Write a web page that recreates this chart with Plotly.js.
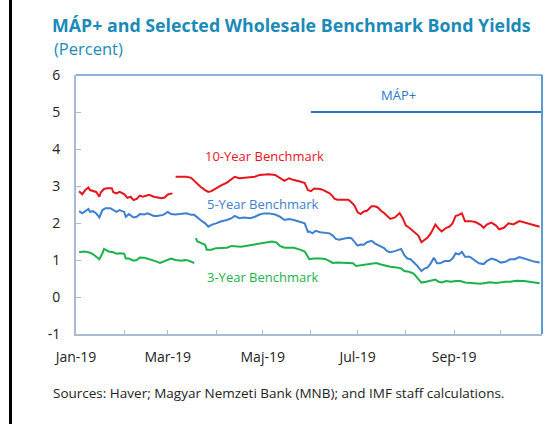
<!DOCTYPE html>
<html>
<head>
<meta charset="utf-8">
<script src="https://cdn.plot.ly/plotly-3.0.1.min.js"></script>
<style>
  html, body { margin: 0; padding: 0; background: #ffffff; }
  #wrap { position: relative; width: 547px; height: 424px; }
  #bar { position: absolute; left: 9px; top: 0; width: 3px; height: 424px; background: #000; z-index: 5; }
  #chart { width: 547px; height: 424px; }
</style>
</head>
<body>
<div id="wrap"><div id="bar"></div><div id="chart"></div></div>
<script>
// ---- Data ----
const tenYearDates = [
  "2019-01-03","2019-01-05","2019-01-07","2019-01-09","2019-01-10","2019-01-12","2019-01-14","2019-01-16",
  "2019-01-17","2019-01-19","2019-01-21","2019-01-24","2019-01-25","2019-01-27","2019-01-29","2019-02-01",
  "2019-02-03","2019-02-05","2019-02-07","2019-02-09","2019-02-11","2019-02-13","2019-02-17","2019-02-20",
  "2019-02-22","2019-02-25","2019-02-27","2019-03-01","2019-03-04","2019-03-05",
  "2019-03-06","2019-03-10","2019-03-13","2019-03-16","2019-03-18","2019-03-22","2019-03-25","2019-03-27",
  "2019-03-29","2019-04-01","2019-04-04","2019-04-08","2019-04-11","2019-04-13","2019-04-16","2019-04-19",
  "2019-04-23","2019-04-26","2019-04-29","2019-05-02","2019-05-05","2019-05-09","2019-05-12","2019-05-15",
  "2019-05-18","2019-05-21","2019-05-25","2019-05-28","2019-05-30","2019-06-01","2019-06-03","2019-06-07",
  "2019-06-09","2019-06-11","2019-06-13","2019-06-15","2019-06-16","2019-06-18","2019-06-20","2019-06-22",
  "2019-06-25","2019-06-27","2019-06-29","2019-07-01","2019-07-03","2019-07-05","2019-07-07","2019-07-10",
  "2019-07-12","2019-07-14","2019-07-16","2019-07-18","2019-07-20","2019-07-22","2019-07-25","2019-07-27",
  "2019-07-28","2019-07-30","2019-08-01","2019-08-03","2019-08-05","2019-08-07","2019-08-09","2019-08-11",
  "2019-08-13","2019-08-15","2019-08-17","2019-08-19","2019-08-20","2019-08-22","2019-08-24","2019-08-27",
  "2019-08-29","2019-08-31","2019-09-02","2019-09-04","2019-09-06","2019-09-08","2019-09-12","2019-09-15",
  "2019-09-18","2019-09-20","2019-09-22","2019-09-25","2019-09-28","2019-09-30","2019-10-03","2019-10-06",
  "2019-10-09","2019-10-13","2019-10-16","2019-10-19","2019-10-22","2019-10-26"
];
const tenYearValues = [
  2.86,2.78,2.89,2.96,2.89,2.87,2.84,2.71,
  2.83,2.92,2.94,2.94,2.83,2.80,2.84,2.78,
  2.68,2.71,2.62,2.65,2.74,2.71,2.76,2.71,
  2.69,2.67,2.69,2.77,2.80,null,
  3.25,3.25,3.25,3.22,3.14,2.98,2.89,2.84,
  2.86,2.94,3.01,3.09,3.19,3.25,3.21,3.22,
  3.22,3.25,3.30,3.32,3.32,3.30,3.21,3.14,
  3.21,3.16,3.12,3.08,2.89,2.86,2.93,2.92,
  2.89,2.84,2.80,2.72,2.66,2.63,2.63,2.62,
  2.63,2.56,2.47,2.29,2.24,2.31,2.33,2.45,
  2.45,2.42,2.33,2.27,2.20,2.11,2.15,2.24,
  2.27,2.13,1.93,1.88,1.81,1.75,1.66,1.48,
  1.55,1.61,1.72,1.87,1.96,1.85,1.77,1.87,
  1.90,1.99,2.19,2.22,2.26,2.05,2.05,2.02,
  1.95,1.87,1.96,2.01,1.93,1.83,1.87,1.99,
  1.96,2.05,2.02,1.99,1.95,1.90
];

const fiveYearDates = [
  "2019-01-03","2019-01-05","2019-01-07","2019-01-09","2019-01-10","2019-01-12","2019-01-14","2019-01-16",
  "2019-01-18","2019-01-20","2019-01-23","2019-01-25","2019-01-27","2019-01-29","2019-02-01","2019-02-02",
  "2019-02-04","2019-02-07","2019-02-09","2019-02-11","2019-02-14","2019-02-16","2019-02-20","2019-02-22",
  "2019-02-26","2019-03-01","2019-03-03","2019-03-06","2019-03-10","2019-03-13","2019-03-16","2019-03-18",
  "2019-03-22","2019-03-25","2019-03-27","2019-03-29","2019-04-01","2019-04-04","2019-04-08","2019-04-11",
  "2019-04-13","2019-04-16","2019-04-19","2019-04-23","2019-04-26","2019-04-29","2019-05-02","2019-05-05",
  "2019-05-09","2019-05-12","2019-05-15","2019-05-18","2019-05-21","2019-05-25","2019-05-28","2019-05-30",
  "2019-05-31","2019-06-02","2019-06-04","2019-06-07","2019-06-10","2019-06-13","2019-06-15","2019-06-17",
  "2019-06-19","2019-06-21","2019-06-25","2019-06-27","2019-06-29","2019-07-01","2019-07-03","2019-07-05",
  "2019-07-07","2019-07-10","2019-07-12","2019-07-14","2019-07-16","2019-07-18","2019-07-20","2019-07-22",
  "2019-07-25","2019-07-27","2019-07-29","2019-07-31","2019-08-02","2019-08-04","2019-08-06","2019-08-08",
  "2019-08-11","2019-08-13","2019-08-15","2019-08-17","2019-08-19","2019-08-21","2019-08-23","2019-08-26",
  "2019-08-29","2019-08-31","2019-09-02","2019-09-04","2019-09-06","2019-09-08","2019-09-11","2019-09-14",
  "2019-09-17","2019-09-20","2019-09-22","2019-09-25","2019-09-28","2019-10-01","2019-10-04","2019-10-07",
  "2019-10-10","2019-10-13","2019-10-16","2019-10-20","2019-10-23","2019-10-26"
];
const fiveYearValues = [
  2.32,2.26,2.32,2.38,2.30,2.32,2.26,2.15,
  2.35,2.40,2.40,2.35,2.30,2.35,2.30,2.17,
  2.24,2.15,2.17,2.24,2.23,2.26,2.19,2.19,
  2.22,2.30,2.24,2.23,2.25,2.26,2.22,2.22,
  2.08,1.99,1.90,1.95,1.99,2.04,2.08,2.13,
  2.19,2.13,2.15,2.13,2.17,2.23,2.26,2.26,
  2.23,2.17,2.08,2.11,2.08,2.02,1.99,1.76,
  1.77,1.72,1.79,1.75,1.74,1.72,1.66,1.57,
  1.55,1.57,1.60,1.59,1.48,1.39,1.42,1.41,
  1.48,1.52,1.45,1.41,1.36,1.32,1.24,1.21,
  1.24,1.27,1.30,1.13,1.04,1.02,0.95,0.86,
  0.70,0.77,0.80,0.91,1.06,0.91,0.91,0.97,
  0.97,1.04,1.18,1.15,1.22,1.09,1.09,1.00,
  0.91,0.89,0.97,1.04,1.00,0.93,0.95,1.02,
  1.02,1.08,1.04,1.00,0.95,0.93
];

const threeYearDates = [
  "2019-01-03","2019-01-06","2019-01-09","2019-01-11","2019-01-13","2019-01-16","2019-01-18","2019-01-19",
  "2019-01-22","2019-01-25","2019-01-27","2019-01-29","2019-02-01","2019-02-02","2019-02-04","2019-02-07",
  "2019-02-09","2019-02-11","2019-02-14","2019-02-17","2019-02-21","2019-02-24","2019-02-26","2019-03-01",
  "2019-03-03","2019-03-06","2019-03-10","2019-03-12","2019-03-14","2019-03-18","2019-03-18 12:00",
  "2019-03-19","2019-03-20","2019-03-23","2019-03-25","2019-03-26","2019-03-29","2019-04-01","2019-04-04",
  "2019-04-08","2019-04-11","2019-04-14","2019-04-17","2019-04-20","2019-04-24","2019-04-27","2019-04-30",
  "2019-05-03","2019-05-07","2019-05-10","2019-05-12","2019-05-15","2019-05-18","2019-05-21","2019-05-25",
  "2019-05-28","2019-05-31","2019-06-03","2019-06-07","2019-06-10","2019-06-13","2019-06-15","2019-06-18",
  "2019-06-21","2019-06-25","2019-06-28","2019-06-30","2019-07-03","2019-07-06","2019-07-10","2019-07-13",
  "2019-07-16","2019-07-19","2019-07-22","2019-07-26","2019-07-29","2019-07-31","2019-08-03","2019-08-06",
  "2019-08-08","2019-08-11","2019-08-14","2019-08-17","2019-08-20","2019-08-22","2019-08-24","2019-08-27",
  "2019-08-30","2019-09-02","2019-09-05","2019-09-08","2019-09-12","2019-09-15","2019-09-18","2019-09-21",
  "2019-09-24","2019-09-28","2019-10-01","2019-10-04","2019-10-07","2019-10-11","2019-10-16","2019-10-20",
  "2019-10-24","2019-10-26"
];
const threeYearValues = [
  1.21,1.23,1.21,1.18,1.12,1.02,1.18,1.30,
  1.23,1.21,1.17,1.18,1.17,1.04,1.04,0.98,
  1.00,1.07,1.06,1.03,0.97,0.92,0.95,1.00,
  1.04,1.00,0.98,1.00,0.99,0.92,null,
  1.59,1.50,1.45,1.41,1.28,1.28,1.32,1.32,
  1.33,1.38,1.36,1.36,1.38,1.41,1.42,1.45,
  1.48,1.50,1.47,1.38,1.33,1.32,1.33,1.28,
  1.23,1.02,1.04,1.04,1.03,0.97,0.92,0.93,
  0.92,0.91,0.91,0.84,0.86,0.88,0.92,0.92,
  0.88,0.84,0.82,0.80,0.77,0.70,0.68,0.63,
  0.54,0.39,0.41,0.43,0.47,0.41,0.39,0.43,
  0.41,0.43,0.43,0.39,0.38,0.37,0.36,0.38,
  0.40,0.38,0.40,0.41,0.41,0.44,0.43,0.41,
  0.38,0.37
];

// MÁP+ marker line (level 5 from launch to end of window)
const mapDates = ["2019-06-01", "2019-10-27 12:00"];
const mapValues = [5, 5];

// Axis ticks
const xTickDates = ["2019-01-01","2019-02-01","2019-03-01","2019-04-01","2019-05-01","2019-06-01",
                    "2019-07-01","2019-08-01","2019-09-01","2019-10-01"];
const xTickLabels = ["Jan-19","","Mar-19","","Maj-19","","Jul-19","","Sep-19",""];
const yTickValues = [-1,0,1,2,3,4,5,6];
const yTickLabels = ["-1","0","1","2","3","4","5","6"];

const seriesNames = ["10-Year Benchmark","5-Year Benchmark","3-Year Benchmark"];
const labelDates = ["2019-05-02","2019-05-01","2019-05-01"];
const labelValues = [3.8, 2.52, 0.55];

// ---- Styling ----
const RED = "#e8141c", BLUE = "#3d80d0", GREEN = "#1cb24b";
const FRAME = "#5b9bd5", AXIS = "#a9bccf";
const FONT = "Open Sans, Noto Sans, sans-serif";

const traces = [
  {x: tenYearDates, y: tenYearValues, type: "scatter", mode: "lines", line: {color: RED, width: 2}, connectgaps: false, hoverinfo: "skip"},
  {x: fiveYearDates, y: fiveYearValues, type: "scatter", mode: "lines", line: {color: BLUE, width: 2}, hoverinfo: "skip"},
  {x: threeYearDates, y: threeYearValues, type: "scatter", mode: "lines", line: {color: GREEN, width: 2}, connectgaps: false, hoverinfo: "skip"},
  {x: mapDates, y: mapValues, type: "scatter", mode: "lines", line: {color: "#2e75c9", width: 2}, hoverinfo: "skip"}
];

const labelColors = [RED, BLUE, GREEN];
const annotations = seriesNames.map((t, i) => ({
  x: labelDates[i], y: labelValues[i], xref: "x", yref: "y", text: t, showarrow: false,
  font: {family: FONT, size: 13, color: labelColors[i]}, xanchor: "center", yanchor: "middle"
}));
annotations.push({
  x: "2019-07-27", y: 5.45, xref: "x", yref: "y", text: "MÁP+", showarrow: false,
  font: {family: FONT, size: 13, color: "#2e75c9"}, xanchor: "center", yanchor: "middle"
});
annotations.push({
  x: 52, y: 424 - 48.5, xref: "paper", yref: "paper", text: "(Percent)", showarrow: false,
  font: {family: FONT, size: 16.5, color: "#1a8ab8"}, xanchor: "left", yanchor: "middle"
});
annotations.push({
  x: 51, y: 424 - 393, xref: "paper", yref: "paper", text: "Sources: Haver; Magyar Nemzeti Bank (MNB); and IMF staff calculations.", showarrow: false,
  font: {family: FONT, size: 13.5, color: "#222222"}, xanchor: "left", yanchor: "middle"
});

// convert pixel-positioned paper annotations
const W = 547, H = 424, ML = 76, MR = 5, MT = 75, MB = 90;
const PW = W - ML - MR, PH = H - MT - MB;
annotations.forEach(a => {
  if (a.xref === "paper") {
    a.x = (a.x - ML) / PW;
    a.y = (a.y - MB) / PH;
  }
});

const layout = {
  width: W, height: H,
  margin: {l: ML, r: MR, t: MT, b: MB, pad: 0},
  paper_bgcolor: "#ffffff", plot_bgcolor: "#ffffff",
  showlegend: false,
  font: {family: FONT, size: 13, color: "#222222"},
  title: {
    text: "<b>MÁP+ and Selected Wholesale Benchmark Bond Yields</b>",
    font: {family: FONT, size: 17.8, color: "#1a8ab8"},
    x: 52 / W, xref: "container", xanchor: "left",
    y: 1 - 25.5 / H, yref: "container", yanchor: "middle"
  },
  xaxis: {
    type: "date",
    range: ["2019-01-01", "2019-10-27 12:00"],
    tickmode: "array", tickvals: xTickDates, ticktext: xTickLabels,
    ticks: "inside", ticklen: 4, tickcolor: AXIS, tickwidth: 1,
    showline: true, linecolor: AXIS, linewidth: 2,
    showgrid: false, zeroline: false,
    tickfont: {family: FONT, size: 14, color: "#222222"},
    ticklabelstandoff: 9,
    fixedrange: true
  },
  yaxis: {
    range: [-1, 6],
    tickmode: "array", tickvals: yTickValues, ticktext: yTickLabels,
    ticks: "inside", ticklen: 5, tickcolor: AXIS, tickwidth: 1,
    showline: true, linecolor: AXIS, linewidth: 2,
    showgrid: false, zeroline: false,
    tickfont: {family: FONT, size: 14, color: "#222222"},
    ticklabelstandoff: 11,
    fixedrange: true
  },
  shapes: [
    {type: "line", xref: "paper", yref: "paper", x0: 0, x1: 1, y0: 1, y1: 1, line: {color: FRAME, width: 1.5}},
    {type: "line", xref: "paper", yref: "paper", x0: 1, x1: 1, y0: 0, y1: 1, line: {color: FRAME, width: 2}}
  ],
  annotations: annotations
};

Plotly.newPlot("chart", traces, layout, {displayModeBar: false, staticPlot: true});
</script>
</body>
</html>
